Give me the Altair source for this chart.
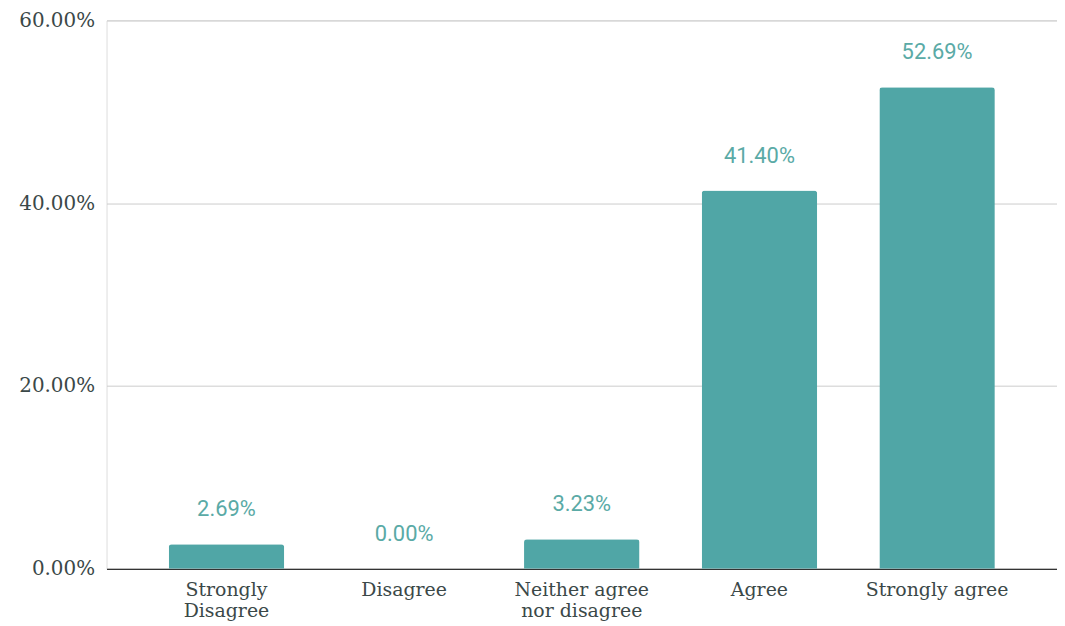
import altair as alt
import pandas as pd

categories = ["Strongly Disagree", "Disagree", "Neither agree nor disagree", "Agree", "Strongly agree"]
label_lines = [["Strongly", "Disagree"], ["Disagree"], ["Neither agree", "nor disagree"], ["Agree"], ["Strongly agree"]]
values = [2.69, 0.00, 3.23, 41.40, 52.69]
y_ticks = [0, 20, 40, 60]

df = pd.DataFrame({"category": categories, "value": values})
df["label"] = [f"{v:.2f}%" for v in values]

label_map = "{" + ", ".join(
    f"'{c}': [" + ", ".join(f"'{l}'" for l in ls) + "]" for c, ls in zip(categories, label_lines)
) + "}"

x = alt.X(
    "category:N",
    sort=categories,
    title=None,
    scale=alt.Scale(paddingInner=0.35, paddingOuter=0.35),
    axis=alt.Axis(
        labelAngle=0,
        labelFont="DejaVu Serif",
        labelFontSize=19,
        labelColor="#3b4848",
        labelPadding=12,
        labelLineHeight=21,
        ticks=False,
        domainColor="#333333",
        domainWidth=1.2,
        labelExpr=label_map + "[datum.value]",
    ),
)

y = alt.Y(
    "value:Q",
    title=None,
    scale=alt.Scale(domain=[0, 60], nice=False),
    axis=alt.Axis(
        values=y_ticks,
        labelExpr="format(datum.value, '.2f') + '%'",
        labelFont="DejaVu Serif",
        labelFontSize=20,
        labelColor="#3b4848",
        labelPadding=12,
        ticks=False,
        domain=False,
        gridColor="#cccccc",
        gridWidth=1,
    ),
)

bars = alt.Chart(df).mark_bar(
    color="#50a6a6", cornerRadiusTopLeft=3, cornerRadiusTopRight=3
).encode(x=x, y=y)

texts = alt.Chart(df).mark_text(
    font="Roboto", fontSize=22, color="#5aaaa6", baseline="middle", dy=-35
).encode(x=alt.X("category:N", sort=categories), y="value:Q", text="label:N")

chart = (
    alt.layer(bars, texts)
    .properties(
        width=955,
        height=551,
        autosize=alt.AutoSizeParams(type="none"),
        padding={"left": 99, "top": 11, "right": 0, "bottom": 54},
    )
    .configure_view(stroke=None)
    .configure(background="white")
)

chart.save("out.html", embed_options={"renderer": "svg", "actions": False})
